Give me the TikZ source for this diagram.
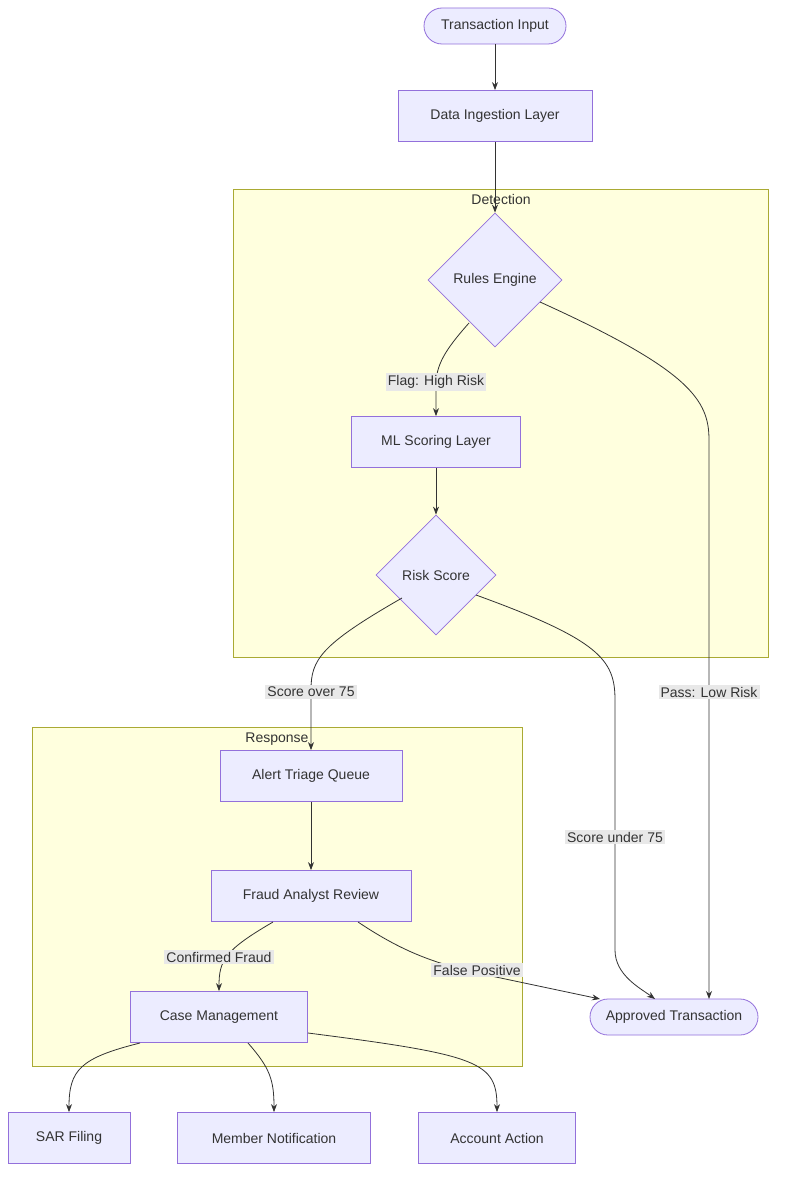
\documentclass[tikz,border=0pt]{standalone}
\usepackage{fontspec}
\setmainfont{Liberation Sans}
\usetikzlibrary{shapes.geometric,arrows.meta}
\definecolor{nf}{HTML}{ECECFF}\definecolor{ns}{HTML}{9370DB}
\definecolor{cf}{HTML}{FFFFDE}\definecolor{cs}{HTML}{AAAA33}
\definecolor{lb}{HTML}{E8E8E8}\definecolor{ed}{HTML}{333333}
\begin{document}
\begin{tikzpicture}[x=1pt,y=-1pt,
 every node/.style={font=\fontsize{14}{16}\selectfont, text=ed},
 box/.style={draw=ns,fill=nf,line width=0.8pt,minimum height=51pt,inner sep=0pt},
 stad/.style={draw=ns,fill=nf,line width=0.8pt,rounded corners=18pt,minimum height=36pt,inner sep=0pt},
 dia/.style={draw=ns,fill=nf,line width=0.8pt,diamond,inner sep=0pt},
 clu/.style={draw=cs,fill=cf,line width=0.8pt},
 lab/.style={fill=lb,inner sep=2pt},
 e/.style={draw=ed,line width=0.8pt},
 a/.style={e,-{Stealth[length=8pt,width=6pt]}}]
\useasboundingbox (0,0) rectangle (784,1185);
\fill[white] (0,0) rectangle (784,1185);
\draw[clu] (233,189) rectangle (768,657);
\node (dl) at (501,199) {Detection};
\draw[clu] (32,727) rectangle (522,1066);
\node (rl) at (277,739) {Response};
\node[stad,minimum width=142pt] (ti) at (495,26) {Transaction Input};
\node[box,minimum width=194pt] (di) at (495,116) {Data Ingestion Layer};
\node[dia,minimum width=134pt,minimum height=134pt] (re) at (495,280) {Rules Engine};
\node[box,minimum width=169pt] (ml) at (436,442) {ML Scoring Layer};
\node[dia,minimum width=120pt,minimum height=120pt] (rs) at (436,575) {Risk Score};
\node[box,minimum width=182pt] (at) at (311,776) {Alert Triage Queue};
\node[box,minimum width=200pt] (fa) at (311,896) {Fraud Analyst Review};
\node[box,minimum width=177pt] (cm) at (219,1017) {Case Management};
\node[stad,minimum width=168pt] (ap) at (674,1017) {Approved Transaction};
\node[box,minimum width=122pt] (sar) at (69,1138) {SAR Filing};
\node[box,minimum width=193pt] (mn) at (274,1138) {Member Notification};
\node[box,minimum width=157pt] (aa) at (497,1138) {Account Action};
\draw[a] (ti) -- (di);
\draw[a] (di) -- (re.north);
\draw[a] (re) ++(-26,43) .. controls (445,350) and (436,365) .. (436,385) -- (ml.north);
\draw[a] (re) ++(45,22) .. controls (690,370) and (709,400) .. (709,440) -- (709,999);
\draw[a] (ml) -- (rs.north);
\draw[a] (rs) ++(-34,23) .. controls (320,645) and (311,660) .. (311,690) -- (at.north);
\draw[a] (rs) ++(40,20) .. controls (600,640) and (615,660) .. (615,700) -- (615,950) .. controls (615,975) and (640,988) .. (655,999);
\draw[a] (at) -- (fa);
\draw[a] (273,922) .. controls (225,950) and (219,960) .. (cm.north);
\draw[a] (358,922) .. controls (400,950) and (430,962) .. (477,973) -- (600,999);
\draw[a] (140,1043) .. controls (80,1058) and (69,1070) .. (sar.north);
\draw[a] (248,1043) .. controls (270,1068) and (274,1080) .. (mn.north);
\draw[a] (308,1033) .. controls (480,1055) and (497,1062) .. (aa.north);
\node[lab] (l1) at (436,382) {Flag: High Risk};
\node[lab] (l2) at (311,692) {Score over 75};
\node[lab] (l3) at (709,692) {Pass: Low Risk};
\node[lab] (l4) at (615,837) {Score under 75};
\node[lab] (l5) at (219,957) {Confirmed Fraud};
\node[lab] (l6) at (477,970) {False Positive};
\end{tikzpicture}
\end{document}
